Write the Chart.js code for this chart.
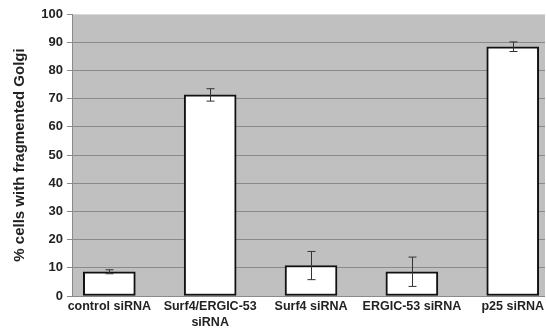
<!DOCTYPE html>
<html>
<head>
<meta charset="utf-8">
<script src="https://cdn.jsdelivr.net/npm/chart.js@4/dist/chart.umd.min.js"></script>
<style>
html,body{margin:0;padding:0;background:#fff;}
#wrap{width:546px;height:334px;}
</style>
</head>
<body>
<div id="wrap"><canvas id="c"></canvas></div>
<script>
const categories = [["control siRNA"], ["Surf4/ERGIC-53", "siRNA"], ["Surf4 siRNA"], ["ERGIC-53 siRNA"], ["p25 siRNA"]];
const values = [8.6, 71.3, 10.8, 8.6, 88.4];
const errors = [0.7, 2.2, 5.0, 5.2, 1.7];
const yTicks = [0, 10, 20, 30, 40, 50, 60, 70, 80, 90, 100];
const yTitle = "% cells with fragmented Golgi";

const plotBg = {
  id: 'plotBg',
  beforeDraw(chart) {
    const {ctx, chartArea: a} = chart;
    ctx.save();
    ctx.fillStyle = '#c0c0c0';
    ctx.fillRect(a.left, a.top, a.right - a.left, a.bottom - a.top);
    ctx.restore();
  }
};

const errorBars = {
  id: 'errorBars',
  afterDatasetsDraw(chart) {
    const {ctx, scales: {x, y}} = chart;
    ctx.save();
    ctx.strokeStyle = '#333';
    ctx.lineWidth = 1;
    values.forEach((v, i) => {
      const px = Math.round(x.getPixelForValue(i)) + 0.5;
      const y1 = y.getPixelForValue(v + errors[i]);
      const y2 = y.getPixelForValue(v - errors[i]);
      const cap = 4;
      ctx.beginPath();
      ctx.moveTo(px, y1); ctx.lineTo(px, y2);
      ctx.moveTo(px - cap, y1); ctx.lineTo(px + cap, y1);
      ctx.moveTo(px - cap, y2); ctx.lineTo(px + cap, y2);
      ctx.stroke();
    });
    ctx.restore();
  }
};

new Chart(document.getElementById('c'), {
  type: 'bar',
  data: {
    datasets: [{
      data: values.map((v, i) => ({x: i, y: v})),
      backgroundColor: '#ffffff',
      borderColor: '#111111',
      borderWidth: 2,
      borderSkipped: false,
      barThickness: 52
    }]
  },
  options: {
    responsive: true,
    maintainAspectRatio: false,
    animation: false,
    layout: {padding: {top: 14, right: 0, bottom: 0, left: 0}},
    plugins: {legend: {display: false}, tooltip: {enabled: false}},
    scales: {
      x: {
        type: 'linear',
        offset: false,
        min: -0.37,
        max: 4.32,
        afterBuildTicks(scale) { scale.ticks = categories.map((_, i) => ({value: i})); },
        afterFit(scale) { scale.height = 38; },
        grid: {display: false, drawTicks: false},
        border: {display: false},
        ticks: {
          autoSkip: false,
          maxRotation: 0,
          padding: 2,
          color: '#222',
          font: {family: 'Liberation Sans, Arial, sans-serif', size: 12.5, weight: 'bold', lineHeight: 1.3},
          callback: (v) => categories[v]
        }
      },
      y: {
        min: 0,
        max: 100,
        afterBuildTicks(scale) { scale.ticks = yTicks.map(v => ({value: v})); },
        afterFit(scale) { scale.width = 72; },
        grid: {
          color: (c) => c.tick && c.tick.value === 100 ? '#d8d8d8' : '#8a8a8a',
          tickColor: '#8a8a8a',
          tickLength: 5
        },
        border: {display: true, color: '#8a8a8a'},
        ticks: {
          padding: 4,
          color: '#222',
          font: {family: 'Liberation Sans, Arial, sans-serif', size: 13, weight: 'bold'}
        },
        title: {
          display: true,
          text: yTitle,
          color: '#222',
          padding: {top: 11, bottom: 0},
          font: {family: 'Liberation Sans, Arial, sans-serif', size: 15, weight: 'bold'}
        }
      }
    }
  },
  plugins: [plotBg, errorBars]
});
</script>
</body>
</html>
